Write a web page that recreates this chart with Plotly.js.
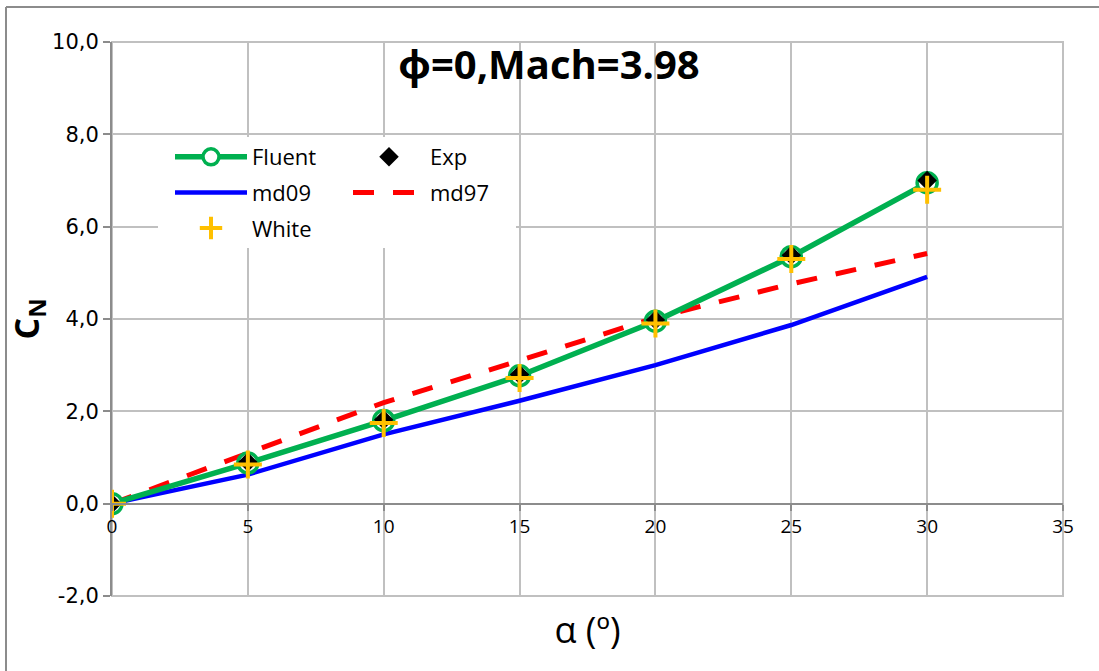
<!DOCTYPE html>
<html>
<head>
<meta charset="utf-8">
<script src="https://cdn.plot.ly/plotly-3.0.1.min.js"></script>
<style>
html,body{margin:0;padding:0;background:#fff;}
#chart{width:1099px;height:671px;}
</style>
</head>
<body>
<div id="chart"></div>
<script>
// ---- data ----
const alpha = [0, 5, 10, 15, 20, 25, 30];
const fluent = [0, 0.88, 1.80, 2.77, 3.95, 5.35, 6.95];
const expData = [0, 0.90, 1.82, 2.80, 3.98, 5.38, 7.00];
const white = [0, 0.85, 1.75, 2.72, 3.90, 5.30, 6.80];
const md09 = [0, 0.63, 1.50, 2.23, 3.00, 3.87, 4.91];
const md97 = [0, 1.10, 2.19, 3.10, 4.03, 4.76, 5.42];
const seriesNames = ["Fluent", "Exp", "md09", "md97", "White"];
const yTickVals = [-2, 0, 2, 4, 6, 8, 10];
const yTickText = ["-2,0", "0,0", "2,0", "4,0", "6,0", "8,0", "10,0"];
const chartTitle = "ϕ=0,Mach=3.98";
const xTitle = "α (º)";
const yTitle = "C<sub>N</sub>";

const FONT = "'Open Sans', 'Noto Sans', sans-serif";
const TICKFONT = "'DejaVu Sans', 'Open Sans', sans-serif";

const traces = [
  {x: alpha, y: md09, name: seriesNames[2], mode: "lines", legend: "legend", legendrank: 2, legendgroup: "g2",
   line: {color: "#0000FF", width: 4.5}},
  {x: alpha, y: md97, name: seriesNames[3], mode: "lines", legend: "legend2", legendrank: 2, legendgroup: "g4",
   line: {color: "#FF0000", width: 5, dash: "21px,19px"}},
  {x: alpha, y: fluent, name: seriesNames[0], mode: "lines+markers", legend: "legend", legendrank: 1, legendgroup: "g1",
   line: {color: "#00B050", width: 5.5},
   marker: {symbol: "circle", size: 20, color: "#FFFFFF", line: {color: "#00B050", width: 3.5}}},
  {x: alpha, y: expData, name: seriesNames[1], mode: "markers", legend: "legend2", legendrank: 1, legendgroup: "g3",
   marker: {symbol: "diamond", size: 15, color: "#000000"}},
  {x: alpha, y: white, name: seriesNames[4], mode: "markers", legend: "legend", legendrank: 3, legendgroup: "g5",
   marker: {symbol: "cross-thin", size: 20, color: "#FFC000", line: {color: "#FFC000", width: 4}}}
];

const W = 1099, H = 671, L = 112, R = 36, T = 42, B = 75;
const pw = W - L - R, ph = H - T - B;
const px = v => (v - L) / pw;
const py = v => (H - B - v) / ph;

const legendCommon = {
  orientation: "v",
  yanchor: "top",
  bgcolor: "rgba(0,0,0,0)",
  borderwidth: 0,
  font: {family: FONT, size: 22, color: "#000000"},
  itemwidth: 72,
  tracegroupgap: 4,
  traceorder: "grouped",
  itemclick: false, itemdoubleclick: false
};

const layout = {
  width: W, height: H,
  margin: {l: L, r: R, t: T, b: B, pad: 0},
  paper_bgcolor: "#FFFFFF",
  plot_bgcolor: "#FFFFFF",
  font: {family: FONT, size: 19, color: "#000000"},
  showlegend: true,
  title: {
    text: chartTitle,
    font: {family: FONT, size: 40, color: "#000000", weight: "bold"},
    xref: "paper", x: px(549), xanchor: "center",
    yref: "container", y: 1 - 65 / H, yanchor: "middle"
  },
  xaxis: {
    range: [0, 35], dtick: 5, tick0: 0,
    anchor: "free", position: 1 / 6,
    showgrid: true, gridcolor: "#C0C0C0", gridwidth: 2,
    showline: true, linecolor: "#8C8C8C", linewidth: 2,
    zeroline: false,
    ticks: "outside", ticklen: 6, tickwidth: 2, tickcolor: "#8C8C8C",
    tickfont: {family: FONT, size: 19, color: "#000000"},
    title: {text: xTitle, font: {family: FONT, size: 36, color: "#000000"}, standoff: 78},
    fixedrange: true
  },
  yaxis: {
    range: [-2, 10], tickmode: "array", tickvals: yTickVals, ticktext: yTickText,
    showgrid: true, gridcolor: "#C0C0C0", gridwidth: 2,
    showline: true, linecolor: "#8C8C8C", linewidth: 2,
    zeroline: false,
    ticks: "outside", ticklen: 7, tickwidth: 2, tickcolor: "#8C8C8C",
    tickfont: {family: TICKFONT, size: 21, color: "#000000"},
    title: {text: yTitle, font: {family: FONT, size: 34, color: "#000000", weight: "bold"}, standoff: 2},
    fixedrange: true
  },
  legend: Object.assign({}, legendCommon, {x: px(170), xanchor: "left", y: py(136)}),
  legend2: Object.assign({}, legendCommon, {x: px(348), xanchor: "left", y: py(136)}),
  shapes: [
    {type: "rect", xref: "paper", yref: "paper", x0: 0, x1: 1, y0: 0, y1: 1,
     line: {color: "#C0C0C0", width: 2}, layer: "below"},
    {type: "rect", xref: "paper", yref: "paper", x0: px(158), x1: px(516), y0: py(248), y1: py(137),
     line: {width: 0}, fillcolor: "#FFFFFF", layer: "above"},
    {type: "line", xref: "paper", yref: "paper", x0: px(6), x1: px(6), y0: py(7), y1: py(H + 5),
     line: {color: "#8C8C8C", width: 2}},
    {type: "line", xref: "paper", yref: "paper", x0: px(6), x1: px(W + 5), y0: py(7), y1: py(7),
     line: {color: "#8C8C8C", width: 2}}
  ]
};

Plotly.newPlot("chart", traces, layout, {displayModeBar: false, staticPlot: true});
</script>
</body>
</html>
